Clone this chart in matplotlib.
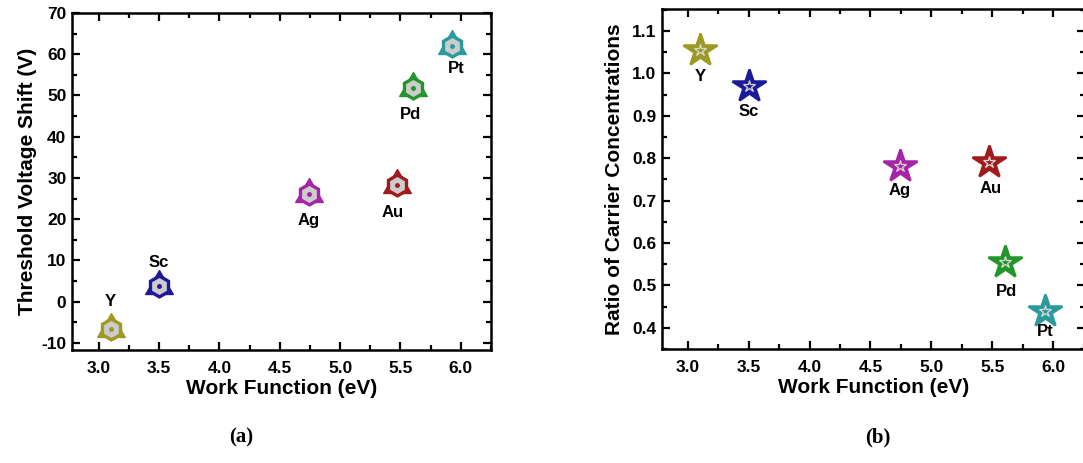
import matplotlib.pyplot as plt
from matplotlib.ticker import MultipleLocator

plt.rcParams['font.family'] = ['Liberation Sans', 'DejaVu Sans']
plt.rcParams['font.weight'] = 'bold'
plt.rcParams['axes.unicode_minus'] = False

metals = ['Y', 'Sc', 'Ag', 'Au', 'Pd', 'Pt']
work_function = [3.10, 3.50, 4.74, 5.47, 5.60, 5.93]
vth_shift = [-6.5, 3.7, 26.2, 28.3, 51.8, 62.1]
carrier_ratio = [1.055, 0.970, 0.782, 0.792, 0.555, 0.440]
colors = ['#9c9a22', '#1c1a96', '#a425a6', '#a01c1c', '#22962a', '#2a9a9c']

# label offsets in pixels (dx, dy) for each metal
offs_a = [(0, 27), (0, 24), (0, -27), (-4, -27), (-2, -26), (4, -23)]
offs_b = [(0, -26), (0, -25), (0, -25), (2, -27), (2, -29), (0, -21)]

# triangle with corners on the hexagon's top / lower-left / lower-right vertices
tri = [(0, 1), (-0.866, -0.5), (0.866, -0.5), (0, 1)]


def style_axes(ax, ymajor, yminor):
    ax.xaxis.set_major_locator(MultipleLocator(0.5))
    ax.xaxis.set_minor_locator(MultipleLocator(0.25))
    ax.yaxis.set_major_locator(MultipleLocator(ymajor))
    ax.yaxis.set_minor_locator(MultipleLocator(yminor))
    ax.tick_params(which='both', direction='in', top=True, right=True,
                   width=1.6, labelsize=12.5)
    ax.tick_params(axis='x', which='both', pad=8)
    ax.tick_params(axis='y', which='both', pad=4)
    ax.tick_params(which='major', length=6)
    ax.tick_params(which='minor', length=3.5)
    for s in ax.spines.values():
        s.set_linewidth(1.8)
    ax.set_xlabel('Work Function (eV)', fontsize=15, fontweight='bold', labelpad=2)


fig = plt.figure(figsize=(10.83, 4.63), dpi=100)
W, H = 1083., 463.

# (a) threshold voltage shift
ax1 = fig.add_axes([72 / W, (H - 350) / H, 419 / W, 337 / H])
ax1.set_xlim(2.78, 6.25)
ax1.set_ylim(-11.7, 70)
for i in range(len(metals)):
    x, y, c = work_function[i], vth_shift[i], colors[i]
    ax1.plot(x, y, marker=tri, ms=23, color=c, mec=c, mew=1, ls='none', zorder=3)
    ax1.plot(x, y, marker='h', ms=15, mfc='#cccccc', mec=c, mew=2.4, ls='none', zorder=4)
    ax1.plot(x, y, marker='o', ms=2.5, color=c, mec=c, ls='none', zorder=5)
    ax1.annotate(metals[i], (x, y), xytext=offs_a[i], textcoords='offset pixels',
                 ha='center', va='center', fontsize=12, fontweight='bold')
style_axes(ax1, 10, 5)
ax1.set_ylabel('Threshold Voltage Shift (V)', fontsize=15, fontweight='bold', labelpad=3)

# (b) carrier concentration ratio
ax2 = fig.add_axes([662 / W, (H - 349) / H, 423 / W, 340 / H])
ax2.set_xlim(2.79, 6.26)
ax2.set_ylim(0.35, 1.152)
for i in range(len(metals)):
    x, y, c = work_function[i], carrier_ratio[i], colors[i]
    ax2.plot(x, y, marker='*', ms=25, color=c, mec=c, mew=1.8, ls='none', zorder=3)
    ax2.plot(x, y, marker='*', ms=9, mfc='none', mec='#d8d8d8', mew=0.9, ls='none', zorder=4)
    ax2.annotate(metals[i], (x, y), xytext=offs_b[i], textcoords='offset pixels',
                 ha='center', va='center', fontsize=12, fontweight='bold')
style_axes(ax2, 0.1, 0.05)
ax2.yaxis.set_major_formatter(plt.FormatStrFormatter('%.1f'))
ax2.set_ylabel('Ratio of Carrier Concentrations', fontsize=15, fontweight='bold', labelpad=6)

fig.text(241 / W, 1 - 437 / H, '(a)', family='Liberation Serif', fontsize=15,
         fontweight='bold', ha='center', va='center')
fig.text(878 / W, 1 - 437 / H, '(b)', family='Liberation Serif', fontsize=15,
         fontweight='bold', ha='center', va='center')

fig.savefig('out.png', dpi=100)
